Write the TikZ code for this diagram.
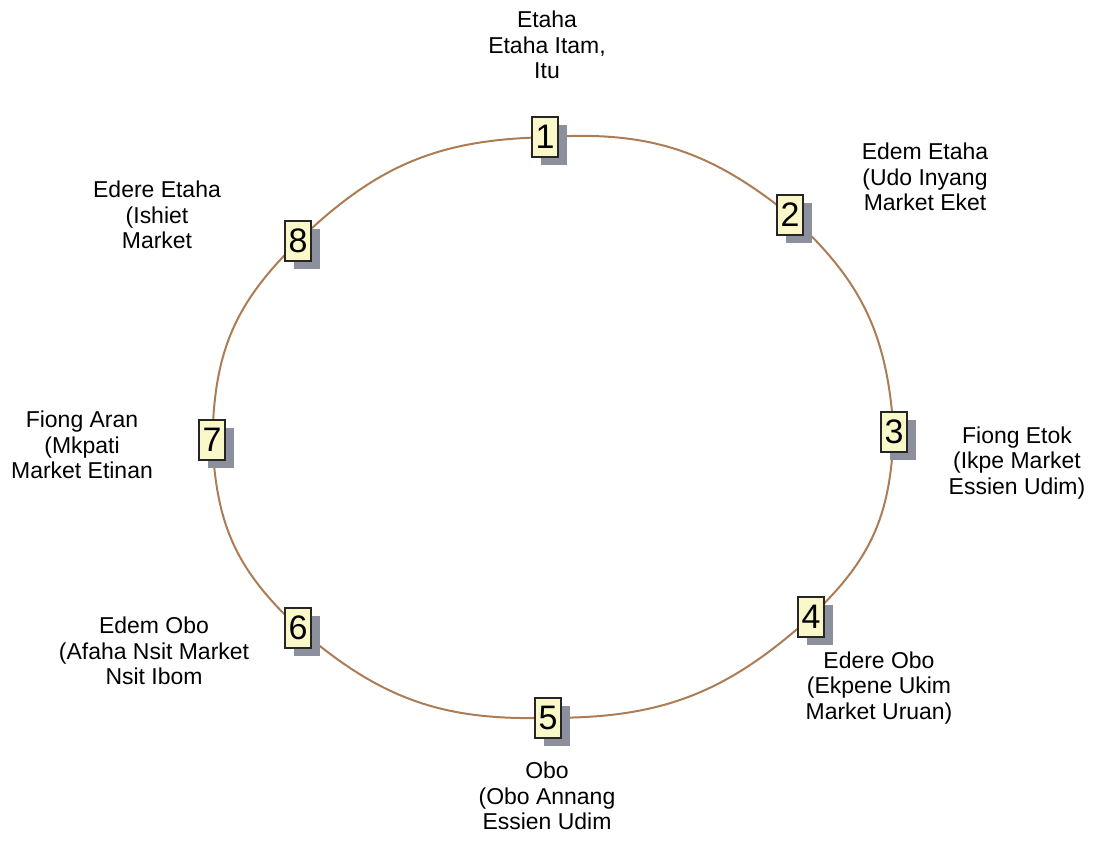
\documentclass[tikz,border=0pt]{standalone}
\usepackage{fontspec}
\setmainfont{Liberation Sans}
\usetikzlibrary{shadows,backgrounds}
\definecolor{ringbrown}{RGB}{172,124,84}
\definecolor{boxyellow}{RGB}{250,247,200}
\definecolor{boxshadow}{RGB}{140,144,156}
\begin{document}
\begin{tikzpicture}[x=0.03cm,y=-0.03cm,
    daybox/.style={draw=black!85,line width=0.9pt,fill=boxyellow,
      minimum width=0.78cm,minimum height=1.2cm,inner sep=0pt,
      font=\fontsize{29}{30}\selectfont,
      drop shadow={shadow xshift=0.27cm,shadow yshift=-0.24cm,fill=boxshadow,opacity=1}},
    daylabel/.style={align=center,inner sep=0pt,font=\fontsize{19.6}{22}\selectfont},
    ring/.style={draw=ringbrown,line width=1.7pt}]
  \useasboundingbox (0,0) rectangle (1095,842);
  % market day boxes
  \node[daybox] (d1) at (545,137) {1};
  \node[daybox] (d2) at (790,215) {2};
  \node[daybox] (d3) at (894,432) {3};
  \node[daybox] (d4) at (811,617) {4};
  \node[daybox] (d5) at (548,718) {5};
  \node[daybox] (d6) at (298,628) {6};
  \node[daybox] (d7) at (212,440) {7};
  \node[daybox] (d8) at (298,241) {8};
  % the ring
  \begin{scope}[on background layer]
    \draw[ring] (d1) to[bend left=20] (d2);
    \draw[ring] (d2) to[bend left=20] (d3);
    \draw[ring] (d3) to[bend left=20] (d4);
    \draw[ring] (d4) to[bend left=20] (d5);
    \draw[ring] (d5) to[bend left=20] (d6);
    \draw[ring] (d6) to[bend left=20] (d7);
    \draw[ring] (d7) to[bend left=20] (d8);
    \draw[ring] (d8) to[bend left=20] (d1);
  \end{scope}
  % labels
  \node[daylabel] (l1) at (547,45) {Etaha\\Etaha Itam,\\Itu};
  \node[daylabel] (l2) at (925,177) {Edem Etaha\\(Udo Inyang\\Market Eket};
  \node[daylabel] (l3) at (1017,463) {Fiong Etok\\(Ikpe Market\\Essien Udim)};
  \node[daylabel] (l4) at (879,688) {Edere Obo\\(Ekpene Ukim\\Market Uruan)};
  \node[daylabel] (l5) at (547,796) {Obo\\(Obo Annang\\Essien Udim};
  \node[daylabel] (l6) at (154,651) {Edem Obo\\(Afaha Nsit Market\\Nsit Ibom};
  \node[daylabel] (l7) at (82,445) {Fiong Aran\\(Mkpati\\Market Etinan};
  \node[daylabel] (l8) at (157,215) {Edere Etaha\\(Ishiet\\Market};
\end{tikzpicture}
\end{document}
